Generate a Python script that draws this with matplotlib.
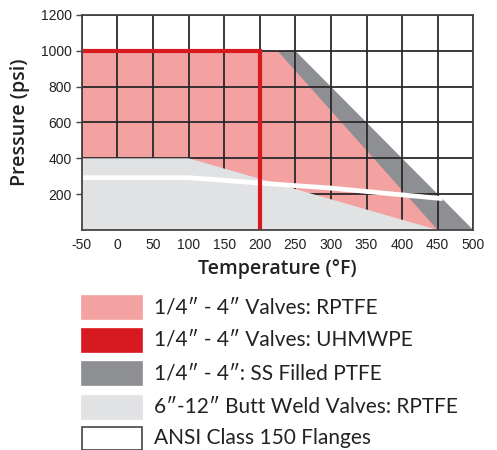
import matplotlib
matplotlib.use("Agg")
import matplotlib.pyplot as plt
from matplotlib.patches import Rectangle

# ---- data ----
x_ticks = [-50, 0, 50, 100, 150, 200, 250, 300, 350, 400, 450, 500]
y_ticks = [200, 400, 600, 800, 1000, 1200]

ss_temp = [-50, -50, 250, 500]
ss_press = [0, 1000, 1000, 0]

rptfe_temp = [-50, -50, 225, 450]
rptfe_press = [0, 1000, 1000, 0]

butt_temp = [-50, -50, 100, 450]
butt_press = [0, 400, 400, 0]

ansi_temp = [-50, 100, 200, 300, 400, 457]
ansi_press = [292, 292, 262, 234, 196, 175]

uhmwpe_temp = [-50, 200, 200]
uhmwpe_press = [1000, 1000, 0]

legend_labels = [
    "1/4\u2033 - 4\u2033 Valves: RPTFE",
    "1/4\u2033 - 4\u2033 Valves: UHMWPE",
    "1/4\u2033 - 4\u2033: SS Filled PTFE",
    "6\u2033-12\u2033 Butt Weld Valves: RPTFE",
    "ANSI Class 150 Flanges",
]

PINK = "#F4A1A1"
RED = "#D71920"
DGRAY = "#8E8F93"
LGRAY = "#E1E2E4"
legend_colors = [PINK, RED, DGRAY, LGRAY, "white"]

W, H = 497, 450
fig = plt.figure(figsize=(W / 100, H / 100), dpi=100)
ax = fig.add_axes([81.7 / W, 1 - 230 / H, (473.3 - 81.7) / W, (230 - 15) / H])

ax.fill(ss_temp, ss_press, color=DGRAY, lw=0, zorder=1)
ax.fill(rptfe_temp, rptfe_press, color=PINK, lw=0, zorder=2)
ax.fill(butt_temp, butt_press, color=LGRAY, lw=0, zorder=3)

ax.set_xlim(-50, 500)
ax.set_ylim(0, 1200)
ax.set_xticks(x_ticks)
ax.set_yticks(y_ticks)
ax.grid(True, color="#2a2a2a", lw=1.3, zorder=4)
ax.set_axisbelow(False)
for gl in ax.get_xgridlines() + ax.get_ygridlines():
    gl.set_zorder(4)

ax.plot(ansi_temp, ansi_press, color="white", lw=3.4, zorder=5, solid_capstyle="butt")
ax.plot(uhmwpe_temp, uhmwpe_press, color=RED, lw=3.0, zorder=6, solid_joinstyle="miter", solid_capstyle="butt")

for s in ax.spines.values():
    s.set_color("#444444")
    s.set_linewidth(1.3)
    s.set_zorder(7)

tick_font = dict(family=["Liberation Sans", "DejaVu Sans"], size=10)
ax.set_xticklabels([str(v) for v in x_ticks], **tick_font, color="#222222")
ax.set_yticklabels([str(v) for v in y_ticks], **tick_font, color="#222222")
ax.tick_params(axis="x", length=0, pad=6)
ax.tick_params(axis="y", length=4, width=1, color="#444444", pad=3)

lab_font = dict(family=["Open Sans", "DejaVu Sans"], weight="semibold", size=14)
ax.set_xlabel("Temperature (\u00b0F)", labelpad=5, **lab_font, color="#222222")
ax.set_ylabel("Pressure (psi)", labelpad=8, **lab_font, color="#222222")

# legend
row_centers = [307, 340, 373, 407, 438]
for lbl, col, yc in zip(legend_labels, legend_colors, row_centers):
    ec = "#444444" if col == "white" else col
    r = Rectangle((82 / W, 1 - (yc + 11.5) / H), 60 / W, 23 / H,
                  transform=fig.transFigure, facecolor=col, edgecolor=ec, lw=1.2)
    fig.add_artist(r)
    fig.text(154 / W, 1 - yc / H, lbl, va="center", ha="left",
             family=["Lato", "DejaVu Sans"], size=15, color="#222222")

fig.savefig("out.png", dpi=100)
